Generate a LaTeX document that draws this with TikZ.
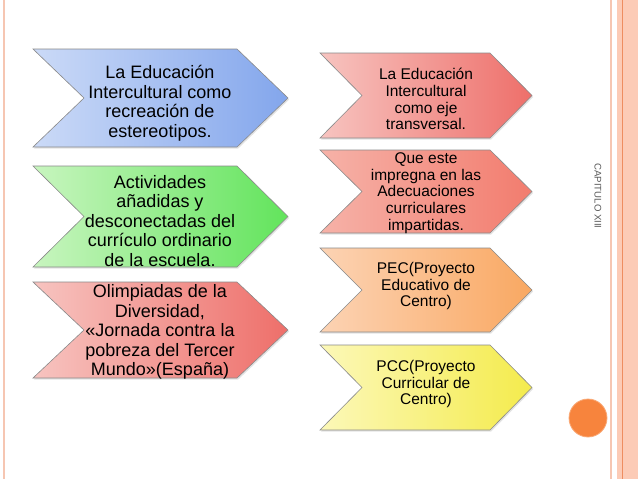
\documentclass[tikz,border=0pt]{standalone}
\usepackage{fontspec}
\setmainfont{Liberation Sans}
\usetikzlibrary{shadows}
\definecolor{bluL}{HTML}{CBDAF7}\definecolor{bluR}{HTML}{83A6EC}
\definecolor{grnL}{HTML}{C8F5BF}\definecolor{grnR}{HTML}{62E45C}
\definecolor{redL}{HTML}{F7C4C0}\definecolor{redR}{HTML}{EE6F6A}
\definecolor{rd2L}{HTML}{F6B2A8}\definecolor{rd2R}{HTML}{F27C6E}
\definecolor{orgL}{HTML}{FCD3B4}\definecolor{orgR}{HTML}{F9A862}
\definecolor{ylwL}{HTML}{FCF8B8}\definecolor{ylwR}{HTML}{F4EB4C}
\definecolor{frameA}{HTML}{F6C6B2}\definecolor{frameB}{HTML}{FCCBB6}
\definecolor{frameC}{HTML}{EE8D60}\definecolor{dotc}{HTML}{F7843D}
\definecolor{edgec}{HTML}{8A8A8A}
\newcommand\mychev[7]{%
  \path[chev, left color=#6, right color=#7]
    (#1,#2) -- (#3,#2) -- ({#3+#5},{(#2+#4)/2}) -- (#3,#4) -- (#1,#4)
    -- ({#1+#5},{(#2+#4)/2}) -- cycle;}
\begin{document}
\begin{tikzpicture}[x=1pt,y=-1pt,
  chev/.style={draw=edgec, line width=0.6pt, line join=miter,
    drop shadow={shadow xshift=1.2pt, shadow yshift=-1.5pt, opacity=0.22}},
  bigtxt/.style={align=center, inner sep=0pt, text=black,
    font=\fontsize{18}{19.5}\selectfont},
  smalltxt/.style={align=center, inner sep=0pt, text=black,
    font=\fontsize{15.5}{16.8}\selectfont}]
\useasboundingbox (0,0) rectangle (638,479);
\fill[white] (0,0) rectangle (638,479);
% frame
\draw[frameA, line width=2pt] (4,0) -- (4,479);
\draw[frameA, line width=2.2pt] (611,0) -- (611,479);
\fill[frameB] (617,0) rectangle (638,479);
\draw[frameC, line width=0.8pt] (622,0) -- (622,479);
% left column
\mychev{33}{49}{237}{147}{51}{bluL}{bluR}
\mychev{33}{166}{237}{267}{51}{grnL}{grnR}
\mychev{33}{282}{237}{378}{51}{redL}{redR}
\node[bigtxt] (l1) at (160,103) {La Educación\\Intercultural como\\recreación de\\estereotipos.};
\node[bigtxt] (l2) at (160,221) {Actividades\\añadidas y\\desconectadas del\\currículo ordinario\\de la escuela.};
\node[bigtxt] (l3) at (160,332) {Olimpiadas de la\\Diversidad,\\«Jornada contra la\\pobreza del Tercer\\Mundo»(España)};
% right column
\mychev{320}{53}{490}{138}{42}{redL}{redR}
\mychev{320}{150}{490}{233}{42}{rd2L}{rd2R}
\mychev{320}{248}{490}{332}{42}{orgL}{orgR}
\mychev{320}{345}{490}{430}{42}{ylwL}{ylwR}
\node[smalltxt] (r1) at (426,99) {La Educación\\Intercultural\\como eje\\transversal.};
\node[smalltxt] (r2) at (426,193) {Que este\\impregna en las\\Adecuaciones\\curriculares\\impartidas.};
\node[smalltxt] (r3) at (426,286) {PEC(Proyecto\\Educativo de\\Centro)};
\node[smalltxt] (r4) at (426,384) {PCC(Proyecto\\Curricular de\\Centro)};
% side label and dot
\node[rotate=-90, inner sep=0pt, text=black!65, font=\fontsize{9.6}{10}\selectfont] (cap) at (598,196) {CAPITULO XIII};
\node[circle, fill=dotc, draw=dotc!70!white, line width=0.8pt, minimum size=38pt, inner sep=0pt] (dot) at (588,418) {};
\end{tikzpicture}
\end{document}
